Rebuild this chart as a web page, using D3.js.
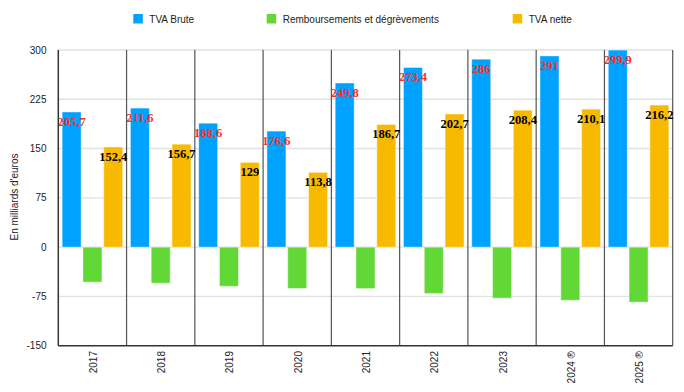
<!DOCTYPE html>
<html>
<head>
<meta charset="utf-8">
<script src="https://cdn.jsdelivr.net/npm/d3@7"></script>
<style>
  html, body { margin: 0; padding: 0; background: #fff; }
  svg { display: block; }
</style>
</head>
<body>
<svg id="chart" width="684" height="392"></svg>
<script>
const categories = ["2017", "2018", "2019", "2020", "2021", "2022", "2023", "2024 ®", "2025 ®"];
const seriesNames = ["TVA Brute", "Remboursements et dégrèvements", "TVA nette"];
const tvaBrute = [205.7, 211.6, 188.6, 176.6, 249.8, 273.4, 286, 291, 299.9];
const remboursements = [-53.3, -54.9, -59.6, -62.8, -63.1, -70.7, -77.6, -80.9, -83.7];
const tvaNette = [152.4, 156.7, 129, 113.8, 186.7, 202.7, 208.4, 210.1, 216.2];
const yTicks = [-150, -75, 0, 75, 150, 225, 300];
const yTitle = "En milliards d'euros";

const colors = ["#00A2FF", "#61D836", "#F8BA00"];
const labelColors = ["#f5302a", null, "#000000"];

const seriesValues = [tvaBrute, remboursements, tvaNette];

const svg = d3.select("#chart");
const mLeft = 58.3, mRight = 672.7, mTop = 50, mBottom = 345.7;

const x = d3.scaleBand().domain(categories).range([mLeft, mRight]).padding(0);
const xi = d3.scaleBand().domain(seriesNames).range([0, x.bandwidth()])
  .paddingInner(0.087).paddingOuter(0.184);
const y = d3.scaleLinear().domain([-150, 300]).range([mBottom, mTop]);

// Gridlines
svg.append("g").selectAll("line").data(yTicks.filter(t => t !== -150)).join("line")
  .attr("x1", mLeft).attr("x2", mRight)
  .attr("y1", d => y(d)).attr("y2", d => y(d))
  .attr("stroke", "#e1e1e1").attr("stroke-width", 1.4);

// Category separators
svg.append("g").selectAll("line").data(categories.slice(1).concat(["__end"])).join("line")
  .attr("x1", d => d === "__end" ? mRight : x(d))
  .attr("x2", d => d === "__end" ? mRight : x(d))
  .attr("y1", mTop).attr("y2", mBottom)
  .attr("stroke", "#555").attr("stroke-width", 1.2);

// Bars
const groups = svg.append("g").selectAll("g").data(categories).join("g")
  .attr("transform", d => `translate(${x(d)},0)`);

groups.each(function(cat, ci) {
  const g = d3.select(this);
  seriesNames.forEach((s, si) => {
    const v = seriesValues[si][ci];
    g.append("rect")
      .attr("x", xi(s))
      .attr("width", xi.bandwidth())
      .attr("y", Math.min(y(v), y(0)))
      .attr("height", Math.abs(y(v) - y(0)))
      .attr("fill", colors[si])
      .attr("stroke", "rgba(255,255,255,0.45)")
      .attr("stroke-width", 1);
  });
});

// Axis lines
svg.append("line").attr("x1", mLeft).attr("x2", mLeft).attr("y1", mTop).attr("y2", mBottom)
  .attr("stroke", "#333").attr("stroke-width", 1.5);
svg.append("line").attr("x1", mLeft).attr("x2", mRight).attr("y1", mBottom).attr("y2", mBottom)
  .attr("stroke", "#333").attr("stroke-width", 1.5);

// Value labels
groups.each(function(cat, ci) {
  const g = d3.select(this);
  [0, 2].forEach(si => {
    const v = seriesValues[si][ci];
    g.append("text")
      .attr("x", xi(seriesNames[si]) + xi.bandwidth() / 2)
      .attr("y", y(v) + 14)
      .attr("text-anchor", "middle")
      .attr("font-family", "'Liberation Serif', 'Times New Roman', serif")
      .attr("font-weight", "bold")
      .attr("font-size", "12.5px")
      .attr("fill", labelColors[si])
      .text(String(v).replace(".", ","));
  });
});

// Y tick labels
svg.append("g").selectAll("text").data(yTicks).join("text")
  .attr("x", 46.5).attr("y", d => y(d)).attr("dy", "0.35em")
  .attr("text-anchor", "end")
  .attr("font-family", "'Liberation Sans', Arial, sans-serif")
  .attr("font-size", "10px").attr("fill", "#222")
  .text(d => String(d));

// X labels (rotated)
svg.append("g").selectAll("text").data(categories).join("text")
  .attr("transform", d => `translate(${x(d) + x.bandwidth() / 2 + 4.5},351) rotate(-90)`)
  .attr("text-anchor", "end")
  .attr("font-family", "'Liberation Sans', Arial, sans-serif")
  .attr("font-size", "10px").attr("fill", "#222")
  .text(d => d);

// Y title
svg.append("text")
  .attr("transform", `translate(18,197) rotate(-90)`)
  .attr("text-anchor", "middle")
  .attr("font-family", "'Liberation Sans', Arial, sans-serif")
  .attr("font-size", "10px").attr("fill", "#222")
  .text(yTitle);

// Legend
const legendX = [133.3, 266.7, 512.7];
const legend = svg.append("g").selectAll("g").data(seriesNames).join("g")
  .attr("transform", (d, i) => `translate(${legendX[i]},14)`);
legend.append("rect").attr("width", 9.5).attr("height", 9.5)
  .attr("fill", (d, i) => colors[i]);
legend.append("text").attr("x", 16).attr("y", 5).attr("dy", "0.35em")
  .attr("font-family", "'Liberation Sans', Arial, sans-serif")
  .attr("font-size", "10px").attr("fill", "#222")
  .text(d => d);
</script>
</body>
</html>
